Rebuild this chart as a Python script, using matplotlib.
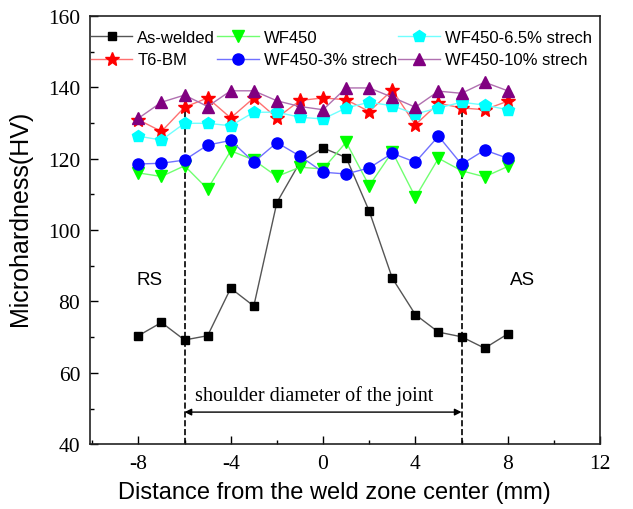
import matplotlib
matplotlib.use("Agg")
import matplotlib.pyplot as plt
from matplotlib.ticker import MultipleLocator

plt.rcParams['axes.unicode_minus'] = False

# data (HV) at positions -8..8 mm
x = [-8, -7, -6, -5, -4, -3, -2, -1, 0, 1, 2, 3, 4, 5, 6, 7, 8]
as_welded = [70.4, 74.1, 69.2, 70.4, 83.7, 78.7, 107.7, 119.0, 123.0, 120.3,
             105.3, 86.5, 76.3, 71.4, 70.1, 66.9, 70.9]
t6_bm = [130.9, 127.6, 134.4, 137.0, 131.4, 137.0, 131.4, 136.3, 137.0, 136.5,
         133.2, 139.2, 129.5, 135.5, 134.2, 133.7, 136.1]
wf450 = [116.0, 115.0, 118.0, 111.5, 122.2, 119.6, 115.0, 117.6, 117.1, 124.6,
         112.4, 121.9, 109.2, 120.1, 116.6, 114.9, 117.8]
wf450_3 = [118.5, 118.7, 119.6, 123.8, 125.1, 119.0, 124.5, 120.7, 116.2, 115.7,
           117.4, 121.5, 119.0, 126.3, 118.4, 122.4, 120.1]
wf450_65 = [126.3, 125.2, 129.9, 129.9, 129.2, 133.0, 133.0, 131.6, 131.1, 134.2,
            135.8, 134.8, 132.5, 134.2, 135.8, 135.0, 133.7]
wf450_10 = [131.3, 135.8, 137.8, 134.6, 139.0, 139.0, 136.2, 134.6, 133.7, 139.8,
            139.8, 137.2, 134.4, 138.9, 138.3, 141.4, 139.0]

fig = plt.figure(figsize=(6.33, 5.10), dpi=100)
ax = fig.add_axes([0.142, 0.127, 0.806, 0.840])

# lighter line, full-colour marker
ax.plot(x, as_welded, '-', color='#555555', lw=1, marker='s', ms=6,
        mfc='black', mec='black', label='As-welded')
ax.plot(x, t6_bm, '-', color='#ff7070', lw=1, marker='*', ms=10,
        mfc='#ff0000', mec='#ff0000', label='T6-BM')
ax.plot(x, wf450, '-', color='#70ff70', lw=1, marker='v', ms=8,
        mfc='#00ff00', mec='#00ff00', label='WF450')
ax.plot(x, wf450_3, '-', color='#7070ff', lw=1, marker='o', ms=8,
        mfc='#0000ff', mec='#0000ff', label='WF450-3% strech')
ax.plot(x, wf450_65, '-', color='#70ffff', lw=1, marker='p', ms=9,
        mfc='#00ffff', mec='#00ffff', label='WF450-6.5% strech')
ax.plot(x, wf450_10, '-', color='#b070b0', lw=1, marker='^', ms=8,
        mfc='#800080', mec='#800080', label='WF450-10% strech')

# shoulder boundaries
ax.plot([-6, -6], [40, 138], '--', color='black', lw=1.2, zorder=1)
ax.plot([6, 6], [40, 137], '--', color='black', lw=1.2, zorder=1)
ax.annotate('', xy=(-6, 49), xytext=(6, 49),
            arrowprops=dict(arrowstyle='<|-|>', color='black', lw=1,
                            mutation_scale=10, shrinkA=0, shrinkB=0))
ax.text(-0.4, 53.8, 'shoulder diameter of the joint', family='Liberation Serif',
        fontsize=14.5, ha='center', va='center')
ax.text(-7.5, 86.2, 'RS', fontsize=13.5, family='Liberation Sans', ha='center', va='center')
ax.text(8.65, 86.2, 'AS', fontsize=13.5, family='Liberation Sans', ha='center', va='center')

ax.set_xlim(-10.1, 12)
ax.set_ylim(40, 160)
ax.xaxis.set_major_locator(MultipleLocator(4))
ax.xaxis.set_minor_locator(MultipleLocator(2))
ax.yaxis.set_major_locator(MultipleLocator(20))
ax.yaxis.set_minor_locator(MultipleLocator(10))
ax.tick_params(which='both', direction='in')
ax.tick_params(which='major', length=6, width=1, pad=7)
ax.tick_params(which='minor', length=3, width=1)
for lab in ax.get_xticklabels() + ax.get_yticklabels():
    lab.set_family('Liberation Serif')
    lab.set_fontsize(15.5)
for s in ax.spines.values():
    s.set_linewidth(1.2)
    s.set_color('#222222')

ax.set_xlabel('Distance from the weld zone center (mm)', family='Liberation Sans', fontsize=17)
ax.set_ylabel('Microhardness(HV)', family='Liberation Sans', fontsize=18)
ax.xaxis.set_label_coords(0.48, -0.085)
ax.yaxis.set_label_coords(-0.113, 0.53)

ax.legend(loc='upper left', bbox_to_anchor=(-0.005, 0.975), ncol=3, frameon=False,
          prop={'family': 'Liberation Sans', 'size': 12},
          handlelength=2.5, handletextpad=0.3, columnspacing=0.1, labelspacing=0.45,
          borderaxespad=0.0, borderpad=0.2)

fig.savefig('out.png', dpi=100)
